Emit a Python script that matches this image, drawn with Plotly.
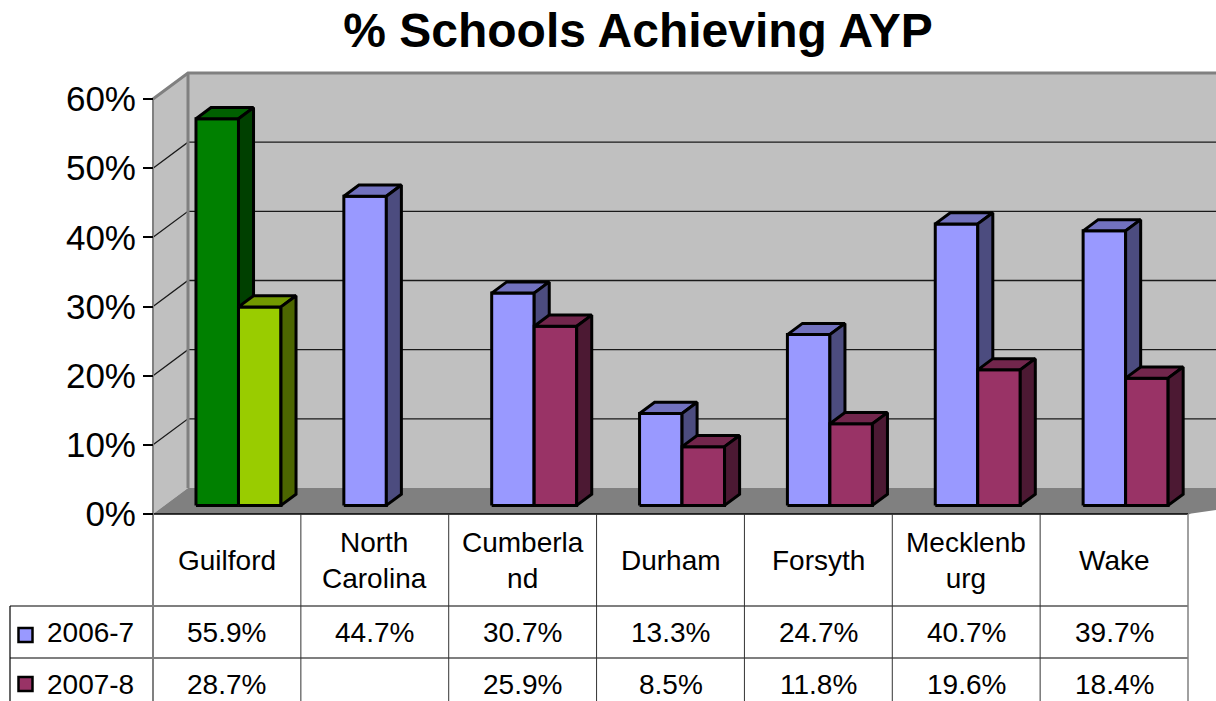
import plotly.graph_objects as go

# data
categories = ["Guilford", "North Carolina", "Cumberland", "Durham", "Forsyth", "Mecklenburg", "Wake"]
header_labels = ["Guilford", "North<br>Carolina", "Cumberla<br>nd", "Durham", "Forsyth", "Mecklenb<br>urg", "Wake"]
series_names = ["2006-7", "2007-8"]
pct_2006 = [55.9, 44.7, 30.7, 13.3, 24.7, 40.7, 39.7]
pct_2007 = [28.7, None, 25.9, 8.5, 11.8, 19.6, 18.4]
y_ticks = [0, 10, 20, 30, 40, 50, 60]

colors_main = ["#9999FF", "#993366"]
colors_guilford = ["#008000", "#99CC00"]

W, H = 1216, 701
FONT = "Liberation Sans, Arial, sans-serif"

# front frame of the plot area in pixels, used to set the axis ranges
AX_LEFT, AX_RIGHT = 153, 1188
AX_BOTTOM, AX_TOP = 514, 99
CAT_PX = (AX_RIGHT - AX_LEFT) / len(categories)
PCT_PX = (AX_BOTTOM - AX_TOP) / 60


def px_x(p):
    return (p - AX_LEFT) / CAT_PX - 0.5


def px_y(p):
    return (AX_BOTTOM - p) / PCT_PX


DX = 35 / CAT_PX      # depth of the 3-D box
DY = 26 / PCT_PX
F0, F1 = 0.33, 0.76   # bar front/back inside the depth
BAR_W = 42.5 / CAT_PX

X_LO, X_HI = -0.5, len(categories) - 0.5
WALL = "#C0C0C0"
FLOOR = "#808080"
EDGE = "#808080"


def shade(hexc, k):
    r, g, b = (int(hexc[i:i + 2], 16) for i in (1, 3, 5))
    return "rgb({},{},{})".format(int(r * k), int(g * k), int(b * k))


fig = go.Figure()


def poly(xs, ys, fill, line_color="black", width=0):
    fig.add_trace(go.Scatter(
        x=list(xs) + [xs[0]], y=list(ys) + [ys[0]],
        mode="lines", fill="toself", fillcolor=fill,
        line=dict(color=line_color, width=width),
        hoverinfo="skip", showlegend=False))


def line(xs, ys, color, width):
    fig.add_trace(go.Scatter(
        x=xs, y=ys, mode="lines", line=dict(color=color, width=width),
        hoverinfo="skip", showlegend=False))


# walls and floor
poly([X_LO + DX, X_HI + DX + 1, X_HI + DX + 1, X_LO + DX], [DY, DY, 60 + DY, 60 + DY], WALL)
poly([X_LO, X_LO + DX, X_LO + DX, X_LO], [0, DY, 60 + DY, 60], WALL)
poly([X_LO, X_HI, X_HI + DX + 1, X_LO + DX], [0, 0, DY, DY], FLOOR)

# gridlines on side wall and back wall
gx, gy = [], []
for v in y_ticks[1:-1]:
    gx += [X_LO, X_LO + DX, X_HI + DX + 1, None]
    gy += [v, v + DY, v + DY, None]
line(gx, gy, "#1a1a1a", 1.3)

# wall edges
line([X_LO, X_LO + DX, X_HI + DX + 1], [60, 60 + DY, 60 + DY], EDGE, 3)
line([X_LO + DX, X_LO + DX], [DY, 60 + DY], EDGE, 3)
line([X_HI, X_HI + DX], [0, DY], EDGE, 2)

# 3-D bars
for i, cat in enumerate(categories):
    cols = colors_guilford if cat == "Guilford" else colors_main
    for s, vals in enumerate([pct_2006, pct_2007]):
        v = vals[i]
        if v is None:
            continue
        xl = i - BAR_W + s * BAR_W + F0 * DX
        xr = xl + BAR_W
        yb = F0 * DY
        yt = yb + v
        ddx, ddy = (F1 - F0) * DX, (F1 - F0) * DY
        c = cols[s]
        poly([xl, xr, xr, xl], [yb, yb, yt, yt], c, width=3)
        poly([xl, xr, xr + ddx, xl + ddx], [yt, yt, yt + ddy, yt + ddy], shade(c, 0.75), width=3)
        poly([xr, xr + ddx, xr + ddx, xr], [yb, yb + ddy, yt + ddy, yt], shade(c, 0.5), width=3)

# data table grid
row1, row2, tbl_bottom = px_y(606), px_y(658), px_y(H + 10)
tbl_left = px_x(10)
line([X_LO, X_HI], [0, 0], "black", 1.5)
line([tbl_left, X_HI, None, tbl_left, X_HI], [row1, row1, None, row2, row2], "black", 1.2)
line([tbl_left, tbl_left], [row1, tbl_bottom], "black", 1.2)
vx, vy = [], []
for k in range(1, len(categories)):
    vx += [X_LO + k, X_LO + k, None]
    vy += [0, tbl_bottom, None]
line(vx, vy, "#333333", 1)
line([X_HI, X_HI], [0, tbl_bottom], EDGE, 1.5)
line([X_LO, X_LO], [60, tbl_bottom], EDGE, 2)

# legend keys inside the table
fig.add_trace(go.Scatter(
    x=[px_x(25.5), px_x(25.5)], y=[px_y(635), px_y(684)], mode="markers",
    marker=dict(symbol="square", size=14, color=colors_main, line=dict(color="black", width=2.5)),
    hoverinfo="skip", showlegend=False))

anns = []
for i, lab in enumerate(header_labels):
    anns.append(dict(x=i, y=px_y(560), text=lab))
    anns.append(dict(x=i, y=px_y(632), text="{:.1f}%".format(pct_2006[i])))
    if pct_2007[i] is not None:
        anns.append(dict(x=i, y=px_y(684), text="{:.1f}%".format(pct_2007[i])))
for a in anns:
    a.update(xref="x", yref="y", showarrow=False, xanchor="center", yanchor="middle",
             font=dict(family=FONT, size=28, color="black"))
for name, yy in zip(series_names, [632, 684]):
    anns.append(dict(x=px_x(45), y=px_y(yy), xref="x", yref="y", text=name, showarrow=False,
                     xanchor="left", yanchor="middle",
                     font=dict(family=FONT, size=28, color="black")))

fig.update_layout(
    width=W, height=H,
    margin=dict(l=0, r=0, t=0, b=0),
    paper_bgcolor="white", plot_bgcolor="white",
    title=dict(text="<b>% Schools Achieving AYP</b>", x=638 / W, xanchor="center",
               y=1 - 30 / H, yanchor="middle",
               font=dict(family=FONT, size=48, color="black")),
    xaxis=dict(range=[px_x(0), px_x(W)], visible=False, fixedrange=True),
    yaxis=dict(range=[px_y(H), px_y(0)], anchor="free", position=AX_LEFT / W,
               tickvals=y_ticks, ticktext=["{}%".format(t) for t in y_ticks],
               ticks="outside", ticklen=10, tickwidth=1.5, tickcolor="black",
               ticklabelstandoff=0,
               tickfont=dict(family=FONT, size=35, color="black"),
               showgrid=False, zeroline=False, showline=False, fixedrange=True),
    annotations=anns,
    hovermode=False,
)

# the page's default body margin would push the figure 8px off the window origin
fig.write_html("out.html", config={"displayModeBar": False},
               post_script="document.body.style.margin='0';")
